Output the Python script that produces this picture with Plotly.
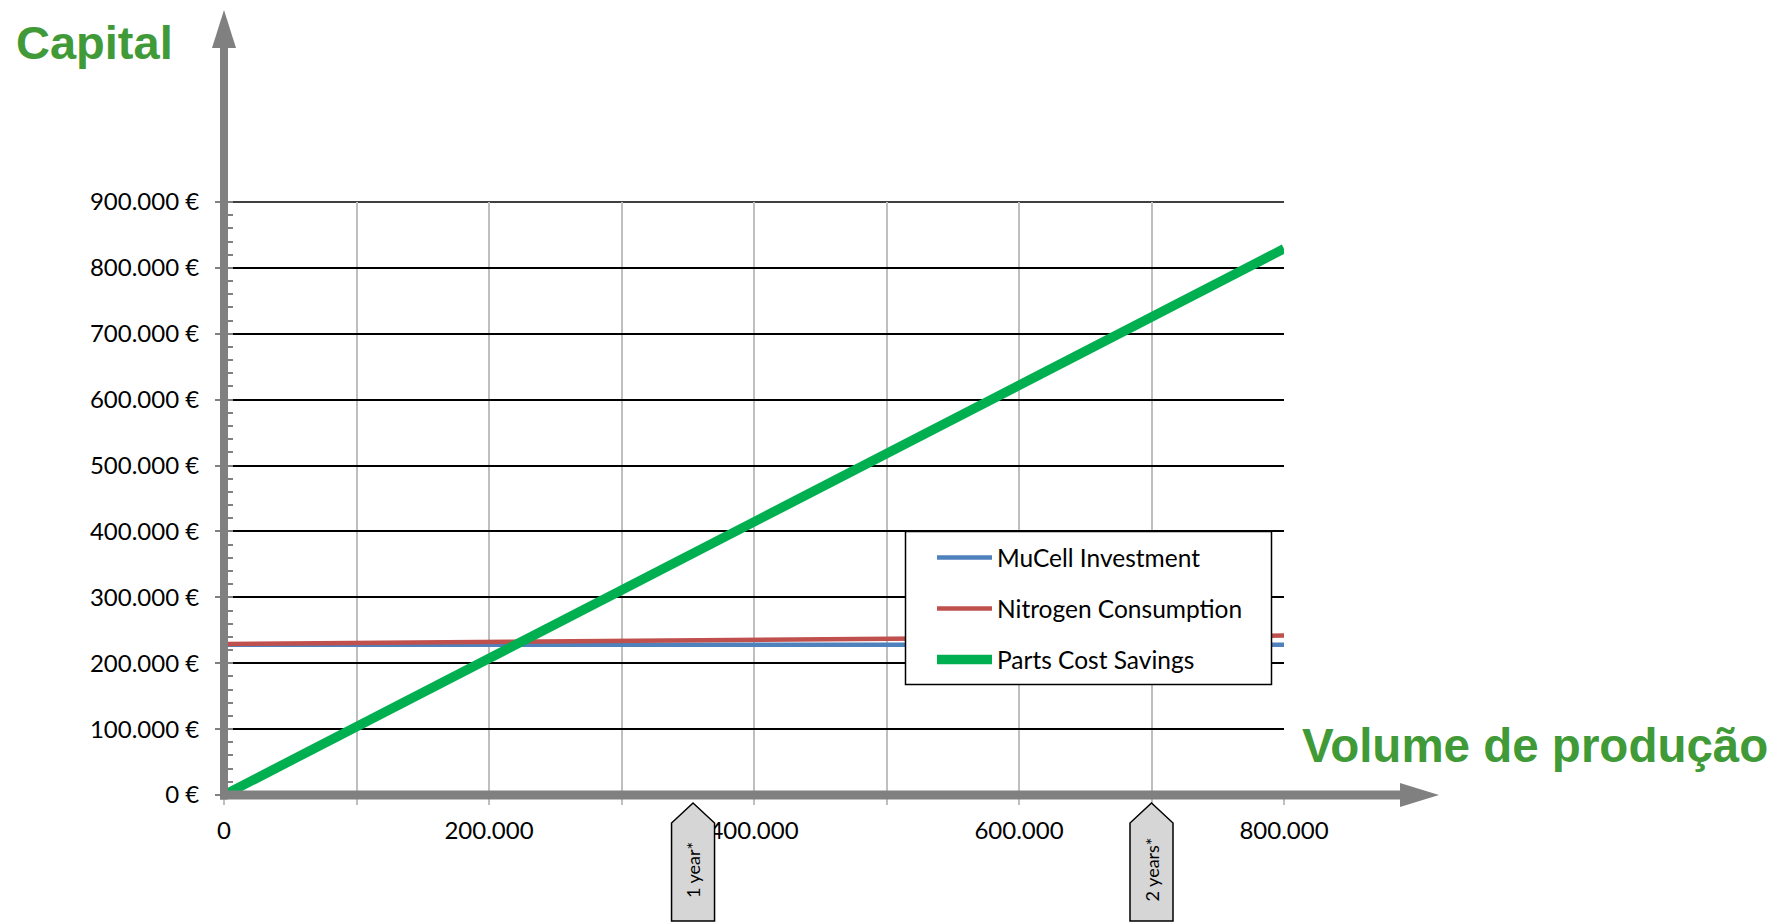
import plotly.graph_objects as go

# Production volume (parts) and capital (EUR) for each series
volume = [0, 100000, 200000, 300000, 400000, 500000, 600000, 700000, 800000]
mucell_investment = [228000, 228000, 228000, 228000, 228000, 228000, 228000, 228000, 228000]
nitrogen_consumption = [229000, 230600, 232300, 233900, 235500, 237100, 238800, 240400, 242000]
parts_cost_savings = [0, 103600, 207200, 310900, 414500, 518100, 621700, 725400, 829000]

series_names = ["MuCell Investment", "Nitrogen Consumption", "Parts Cost Savings"]

y_tick_values = [0, 100000, 200000, 300000, 400000, 500000, 600000, 700000, 800000, 900000]
y_tick_labels = ["0 €", "100.000 €", "200.000 €", "300.000 €", "400.000 €",
                 "500.000 €", "600.000 €", "700.000 €", "800.000 €", "900.000 €"]
x_tick_values = volume
x_tick_labels = ["0", "", "200.000", "", "400.000", "", "600.000", "", "800.000"]

# Payback milestones along the volume axis
milestone_volumes = [354000, 700000]
milestone_labels = ["1 year*", "2 years*"]

# Styling
W_FIG, H_FIG = 1777, 924
L, R, T, B = 224, 1284, 202, 795
PW, PH = R - L, B - T
GREEN_TITLE = "#3f9a37"
AXIS_GRAY = "#808080"
FONT = "Lato"
colors = ["#4f81bd", "#c0504d", "#00b050"]
widths = [4.5, 4.5, 9.5]


def px(x):
    return (x - L) / PW


def py(y):
    return (B - y) / PH


fig = go.Figure()
for name, vals, c, w in zip(series_names,
                            [mucell_investment, nitrogen_consumption, parts_cost_savings],
                            colors, widths):
    fig.add_trace(go.Scatter(x=volume, y=vals, mode="lines", name=name,
                             line=dict(color=c, width=w), showlegend=False,
                             cliponaxis=False))

shapes = []
annotations = []

# Top gridline at the end of the capital range
shapes.append(dict(type="line", xref="paper", yref="paper",
                   x0=0, x1=1, y0=1, y1=1,
                   line=dict(color="black", width=1.5), layer="below"))

# Axis arrows
shapes.append(dict(type="line", xref="paper", yref="paper",
                   x0=px(224), x1=px(224), y0=py(799.5), y1=py(46),
                   line=dict(color=AXIS_GRAY, width=8), layer="above"))
shapes.append(dict(type="path", xref="paper", yref="paper",
                   path=f"M{px(212)},{py(48)} L{px(236)},{py(48)} L{px(224)},{py(10)} Z",
                   fillcolor=AXIS_GRAY, line=dict(width=0), layer="above"))
shapes.append(dict(type="line", xref="paper", yref="paper",
                   x0=px(220), x1=px(1402), y0=py(795), y1=py(795),
                   line=dict(color=AXIS_GRAY, width=9), layer="above"))
shapes.append(dict(type="path", xref="paper", yref="paper",
                   path=f"M{px(1400)},{py(783)} L{px(1400)},{py(807)} L{px(1439)},{py(795)} Z",
                   fillcolor=AXIS_GRAY, line=dict(width=0), layer="above"))

# Legend box
lx0, lx1, ly0, ly1 = 905.5, 1271.5, 531.5, 684.5
shapes.append(dict(type="rect", xref="paper", yref="paper",
                   x0=px(lx0), x1=px(lx1), y0=py(ly1), y1=py(ly0),
                   fillcolor="white", line=dict(color="black", width=1.5), layer="above"))
for i, (name, c, w) in enumerate(zip(series_names, colors, widths)):
    yy = 557.6 + 51 * i
    shapes.append(dict(type="line", xref="paper", yref="paper",
                       x0=px(937), x1=px(992), y0=py(yy), y1=py(yy),
                       line=dict(color=c, width=w), layer="above"))
    annotations.append(dict(text=name, xref="paper", yref="paper",
                            x=px(995), y=py(yy), xanchor="left", yanchor="middle",
                            showarrow=False, font=dict(family=FONT, size=24.5, color="black")))

# Milestone markers below the volume axis
for v, lab in zip(milestone_volumes, milestone_labels):
    shapes.append(dict(type="path", xref="x", yref="paper",
                       xsizemode="pixel", ysizemode="pixel", xanchor=v, yanchor=0,
                       path="M0,-8 L21.5,-28 L21.5,-126 L-21.5,-126 L-21.5,-28 Z",
                       fillcolor="#d6d6d6", line=dict(color="black", width=1.5),
                       layer="above"))
    annotations.append(dict(text=lab, xref="x", yref="paper", x=v, y=0,
                            xanchor="center", yanchor="middle",
                            yshift=-75, textangle=-90, showarrow=False,
                            font=dict(family=FONT, size=18, color="black")))

# Axis titles
annotations.append(dict(text="<b>Capital</b>", xref="paper", yref="paper",
                        x=px(14), y=py(42), xanchor="left", yanchor="middle",
                        showarrow=False,
                        font=dict(family="Liberation Sans", size=47, color=GREEN_TITLE)))
annotations.append(dict(text="<b>Volume de produção</b>", xref="paper", yref="paper",
                        x=px(1300), y=py(745), xanchor="left", yanchor="middle",
                        showarrow=False,
                        font=dict(family="Liberation Sans", size=47.5, color=GREEN_TITLE)))

fig.update_layout(
    width=W_FIG, height=H_FIG,
    margin=dict(l=L, r=W_FIG - R, t=T, b=H_FIG - B),
    paper_bgcolor="white", plot_bgcolor="white",
    shapes=shapes, annotations=annotations,
    showlegend=False,
)
fig.update_xaxes(
    range=[0, 800000], tickvals=x_tick_values, ticktext=x_tick_labels,
    showgrid=True, gridcolor="#bfbfbf", gridwidth=1.5,
    ticks="outside", ticklen=9, tickcolor="#bfbfbf", tickwidth=1.5,
    zeroline=False, showline=False, ticklabelstandoff=5,
    tickfont=dict(family=FONT, size=24, color="black"),
)
fig.update_yaxes(
    range=[0, 900000], tickvals=y_tick_values, ticktext=y_tick_labels,
    showgrid=True, gridcolor="black", gridwidth=1.5,
    ticks="outside", ticklen=8, tickcolor=AXIS_GRAY, tickwidth=1.5,
    minor=dict(dtick=20000, ticks="inside", ticklen=9, tickcolor=AXIS_GRAY,
               tickwidth=1.5, showgrid=False),
    zeroline=False, showline=False, ticklabelstandoff=11,
    tickfont=dict(family=FONT, size=24, color="black"),
)

fig.write_html("out.html")
